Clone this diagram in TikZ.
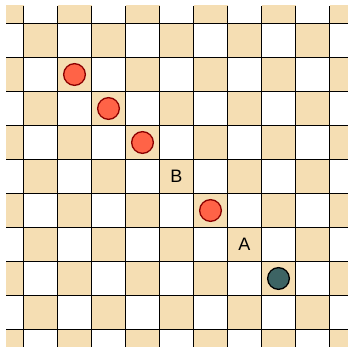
\documentclass[tikz,border=0pt]{standalone}
\usepackage{fontspec}
\setmainfont{Liberation Sans}
\definecolor{tan}{HTML}{F5DEB3}
\definecolor{redfill}{HTML}{FF6347}
\definecolor{redline}{HTML}{8B0000}
\definecolor{darkfill}{HTML}{3D6464}
\begin{document}
\begin{tikzpicture}[x=1pt,y=-1pt,
  redstone/.style={circle,draw=redline,fill=redfill,line width=1.3pt,minimum size=21.7pt,inner sep=0pt},
  darkstone/.style={circle,draw=black,fill=darkfill,line width=1.3pt,minimum size=21.7pt,inner sep=0pt},
  lbl/.style={font=\fontsize{18}{18}\selectfont,inner sep=0pt}]
\useasboundingbox (0,0) rectangle (348,347);
\begin{scope}
\clip (6,6) rectangle (348,347);
\fill[white] (6,6) rectangle (348,347);
\foreach \i in {0,...,10}{
  \foreach \j in {0,...,10}{
    \pgfmathtruncatemacro{\s}{mod(\i+\j,2)}
    \ifnum\s=0
      \fill[tan] (-10.5+34*\i,-10.5+34*\j) rectangle ++(34,34);
    \fi
  }
}
\foreach \k in {0,...,9}{
  \draw[line width=0.8pt] (23.5+34*\k,6) -- (23.5+34*\k,347);
  \draw[line width=0.8pt] (6,23.5+34*\k) -- (348,23.5+34*\k);
}
\end{scope}
\node[redstone] (r1) at (74.5,74.5) {};
\node[redstone] (r2) at (108.5,108.5) {};
\node[redstone] (r3) at (142.5,142.5) {};
\node[lbl] (b) at (176.5,176.5) {B};
\node[redstone] (r4) at (210.5,210.5) {};
\node[lbl] (a) at (244.5,244.5) {A};
\node[darkstone] (d) at (278.5,278.5) {};
\end{tikzpicture}
\end{document}
